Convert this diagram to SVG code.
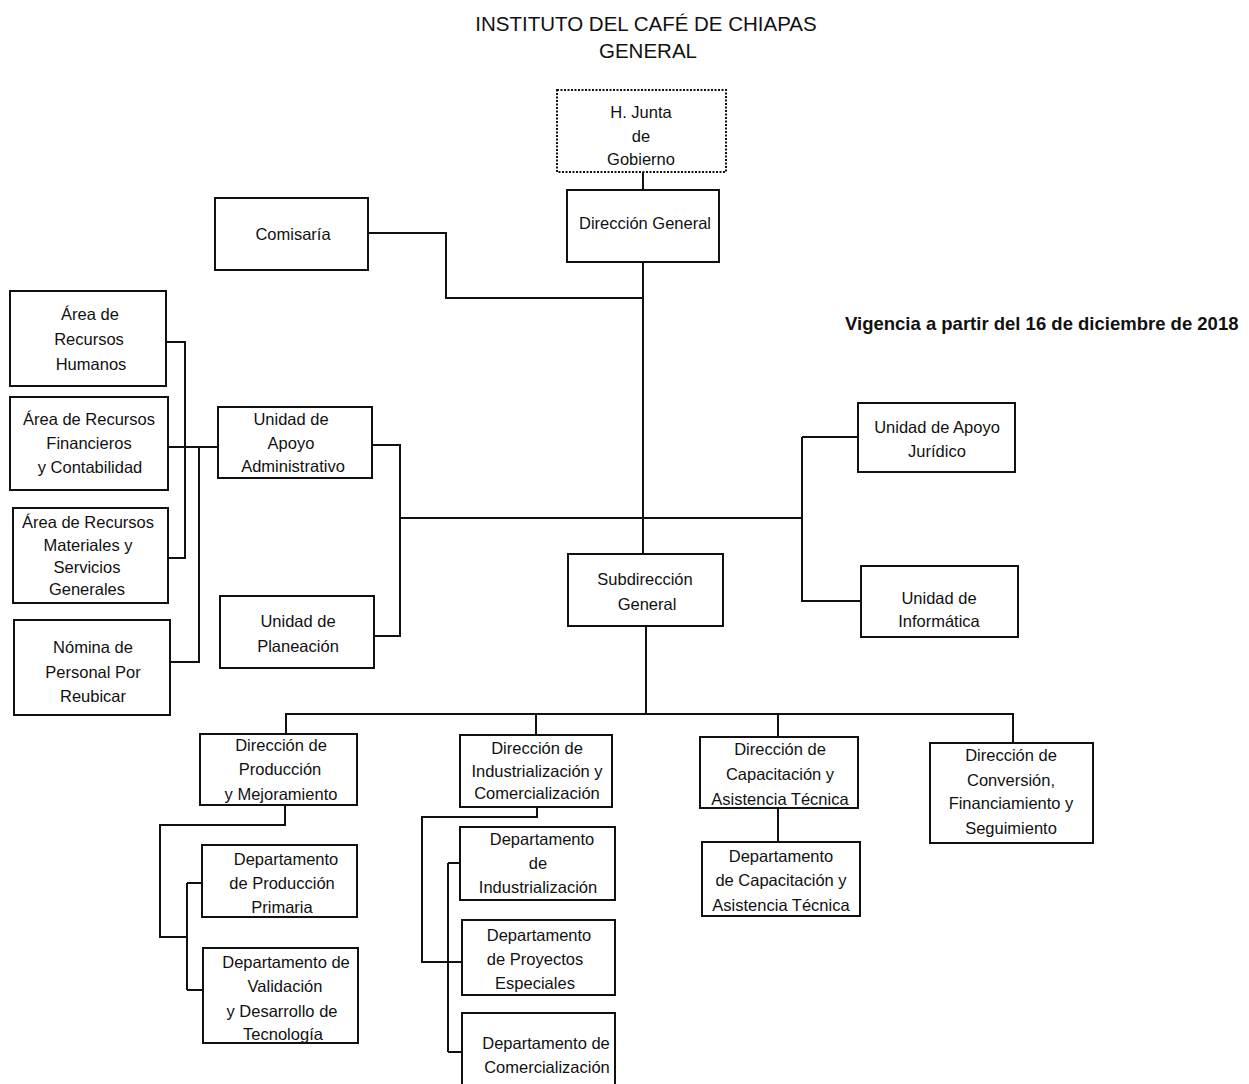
<svg xmlns="http://www.w3.org/2000/svg" width="1249" height="1084" viewBox="0 0 1249 1084">
<style>
  .box { fill: #ffffff; stroke: #111111; stroke-width: 2; }
  .dash { fill: #ffffff; stroke: #111111; stroke-width: 2; stroke-dasharray: 2 1.5; }
  .t { font-family: "Liberation Sans", Arial, sans-serif; font-size: 16.5px; fill: #111111; text-anchor: middle; }
  .title { font-family: "Liberation Sans", Arial, sans-serif; font-size: 20.5px; fill: #111111; text-anchor: middle; }
  .vig { font-family: "Liberation Sans", Arial, sans-serif; font-size: 18.5px; font-weight: bold; fill: #111111; }
  .conn { fill: none; stroke: #111111; stroke-width: 2; }
</style>
<rect width="1249" height="1084" fill="#ffffff"/>

<text class="title" x="646" y="31">INSTITUTO DEL CAFÉ DE CHIAPAS</text>
<text class="title" x="648" y="58">GENERAL</text>
<text class="vig" x="845" y="330">Vigencia a partir del 16 de diciembre de 2018</text>

<g id="connectors">
  <path class="conn" d="M643 172 V190"/>
  <path class="conn" d="M643 262 V554"/>
  <path class="conn" d="M368 233 H446 V298 H643"/>
  <path class="conn" d="M400 518 H802"/>
  <path class="conn" d="M372 445 H400 V636 H374"/>
  <path class="conn" d="M802 437 H858 M802 437 V601 H861"/>
  <path class="conn" d="M168 447 H218"/>
  <path class="conn" d="M166 342 H185 V558 H168"/>
  <path class="conn" d="M199 447 V662 H170"/>
  <path class="conn" d="M646 626 V714"/>
  <path class="conn" d="M286 734 V714 H1013 V743"/>
  <path class="conn" d="M536 714 V735"/>
  <path class="conn" d="M778 714 V737"/>
  <path class="conn" d="M285 805 V825 H160 V937 H187"/>
  <path class="conn" d="M187 883 V990"/>
  <path class="conn" d="M187 883 H202 M187 990 H203"/>
  <path class="conn" d="M537 807 V817 H422 V962 H462"/>
  <path class="conn" d="M448 863 V1052"/>
  <path class="conn" d="M448 863 H460 M448 1052 H462"/>
  <path class="conn" d="M778 808 V842"/>
</g>

<g id="junta">
  <rect class="dash" x="557" y="90" width="169" height="82"/>
  <text class="t" x="641" y="118">H. Junta</text>
  <text class="t" x="641" y="142">de</text>
  <text class="t" x="641" y="165">Gobierno</text>
</g>
<g id="direccion-general">
  <rect class="box" x="567" y="190" width="152" height="72"/>
  <text class="t" x="645" y="229">Dirección  General</text>
</g>
<g id="comisaria">
  <rect class="box" x="215" y="198" width="153" height="72"/>
  <text class="t" x="293" y="240">Comisaría</text>
</g>
<g id="rh">
  <rect class="box" x="10" y="291" width="156" height="95"/>
  <text class="t" x="90" y="320">Área de</text>
  <text class="t" x="89" y="345">Recursos</text>
  <text class="t" x="91" y="370">Humanos</text>
</g>
<g id="rf">
  <rect class="box" x="10" y="397" width="158" height="93"/>
  <text class="t" x="89" y="425">Área de Recursos</text>
  <text class="t" x="89" y="449">Financieros</text>
  <text class="t" x="90" y="473">y Contabilidad</text>
</g>
<g id="rm">
  <rect class="box" x="13" y="508" width="155" height="95"/>
  <text class="t" x="88" y="528">Área de Recursos</text>
  <text class="t" x="88" y="551">Materiales y</text>
  <text class="t" x="87" y="573">Servicios</text>
  <text class="t" x="87" y="595">Generales</text>
</g>
<g id="nomina">
  <rect class="box" x="14" y="620" width="156" height="95"/>
  <text class="t" x="93" y="653">Nómina de</text>
  <text class="t" x="93" y="678">Personal Por</text>
  <text class="t" x="93" y="702">Reubicar</text>
</g>
<g id="apoyo-admin">
  <rect class="box" x="218" y="407" width="154" height="71"/>
  <text class="t" x="291" y="425">Unidad de</text>
  <text class="t" x="291" y="449">Apoyo</text>
  <text class="t" x="293" y="472">Administrativo</text>
</g>
<g id="planeacion">
  <rect class="box" x="220" y="596" width="154" height="72"/>
  <text class="t" x="298" y="627">Unidad de</text>
  <text class="t" x="298" y="652">Planeación</text>
</g>
<g id="juridico">
  <rect class="box" x="858" y="403" width="157" height="69"/>
  <text class="t" x="937" y="433">Unidad de Apoyo</text>
  <text class="t" x="937" y="457">Jurídico</text>
</g>
<g id="informatica">
  <rect class="box" x="861" y="566" width="157" height="71"/>
  <text class="t" x="939" y="604">Unidad de</text>
  <text class="t" x="939" y="627">Informática</text>
</g>
<g id="subdireccion">
  <rect class="box" x="568" y="554" width="155" height="72"/>
  <text class="t" x="645" y="585">Subdirección</text>
  <text class="t" x="647" y="610">General</text>
</g>
<g id="dir-produccion">
  <rect class="box" x="200" y="734" width="157" height="71"/>
  <text class="t" x="281" y="751">Dirección de</text>
  <text class="t" x="280" y="775">Producción</text>
  <text class="t" x="281" y="800">y  Mejoramiento</text>
</g>
<g id="dir-industrializacion">
  <rect class="box" x="460" y="735" width="152" height="72"/>
  <text class="t" x="537" y="754">Dirección de</text>
  <text class="t" x="537" y="777">Industrialización y</text>
  <text class="t" x="537" y="799">Comercialización</text>
</g>
<g id="dir-capacitacion">
  <rect class="box" x="700" y="737" width="158" height="71"/>
  <text class="t" x="780" y="755">Dirección de</text>
  <text class="t" x="780" y="780">Capacitación  y</text>
  <text class="t" x="780" y="805">Asistencia Técnica</text>
</g>
<g id="dir-conversion">
  <rect class="box" x="930" y="743" width="163" height="100"/>
  <text class="t" x="1011" y="761">Dirección de</text>
  <text class="t" x="1011" y="786">Conversión,</text>
  <text class="t" x="1011" y="809">Financiamiento y</text>
  <text class="t" x="1011" y="834">Seguimiento</text>
</g>
<g id="dep-produccion">
  <rect class="box" x="202" y="845" width="155" height="72"/>
  <text class="t" x="286" y="865">Departamento</text>
  <text class="t" x="282" y="889">de Producción</text>
  <text class="t" x="282" y="913">Primaria</text>
</g>
<g id="dep-validacion">
  <rect class="box" x="203" y="948" width="155" height="95"/>
  <text class="t" x="286" y="968">Departamento de</text>
  <text class="t" x="285" y="992">Validación</text>
  <text class="t" x="282" y="1017">y Desarrollo de</text>
  <text class="t" x="283" y="1040">Tecnología</text>
</g>
<g id="dep-industrializacion">
  <rect class="box" x="460" y="827" width="155" height="73"/>
  <text class="t" x="542" y="845">Departamento</text>
  <text class="t" x="538" y="869">de</text>
  <text class="t" x="538" y="893">Industrialización</text>
</g>
<g id="dep-proyectos">
  <rect class="box" x="462" y="920" width="153" height="75"/>
  <text class="t" x="539" y="941">Departamento</text>
  <text class="t" x="535" y="965">de Proyectos</text>
  <text class="t" x="535" y="989">Especiales</text>
</g>
<g id="dep-comercializacion">
  <rect class="box" x="462" y="1013" width="153" height="80"/>
  <text class="t" x="546" y="1049">Departamento de</text>
  <text class="t" x="547" y="1073">Comercialización</text>
</g>
<g id="dep-capacitacion">
  <rect class="box" x="702" y="842" width="158" height="74"/>
  <text class="t" x="781" y="862">Departamento</text>
  <text class="t" x="781" y="886">de Capacitación y</text>
  <text class="t" x="781" y="911">Asistencia Técnica</text>
</g>
</svg>
